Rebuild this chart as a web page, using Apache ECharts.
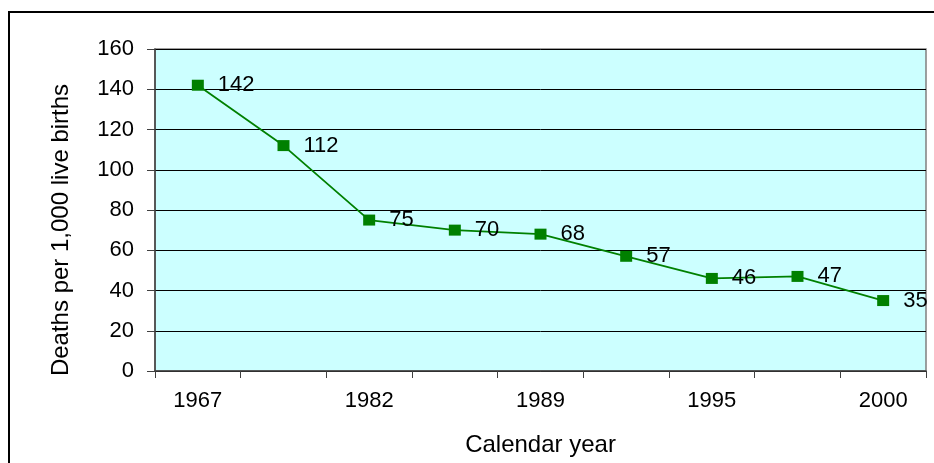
<!DOCTYPE html>
<html>
<head>
<meta charset="utf-8">
<script src="https://cdn.jsdelivr.net/npm/echarts@6/dist/echarts.min.js"></script>
<style>
  html, body { margin: 0; padding: 0; background: #ffffff; }
  #chart { width: 934px; height: 463px; }
</style>
</head>
<body>
<div id="chart"></div>
<script>
// Calendar years on the category axis (every other one is labelled)
const years = ['1967', '1975', '1982', '1986', '1989', '1992', '1995', '1998', '2000'];
// Deaths per 1,000 live births
const deaths = [142, 112, 75, 70, 68, 57, 46, 47, 35];
// Value axis range
const yMin = 0, yMax = 160, yStep = 20;

const FONT = '"Liberation Sans", Arial, sans-serif';
const chart = echarts.init(document.getElementById('chart'), null, { renderer: 'canvas' });

chart.setOption({
  animation: false,
  backgroundColor: '#ffffff',
  graphic: [{
    type: 'rect',
    z: -10,
    silent: true,
    shape: { x: 9, y: 12, width: 960, height: 480 },
    style: { fill: null, stroke: '#000000', lineWidth: 2 }
  }],
  grid: {
    left: 155, right: 8, top: 49, bottom: 92,
    show: true,
    backgroundColor: '#CCFFFF',
    borderColor: '#808080',
    borderWidth: 1.5
  },
  xAxis: {
    type: 'category',
    data: years,
    boundaryGap: true,
    name: 'Calendar year',
    nameLocation: 'middle',
    nameGap: 62,
    nameTextStyle: { fontFamily: FONT, fontSize: 24, color: '#000000' },
    axisLine: { show: true, lineStyle: { color: '#404040', width: 1.5 } },
    axisTick: { show: true, interval: 0, length: 7, lineStyle: { color: '#404040', width: 1 } },
    axisLabel: { interval: 1, margin: 19, fontFamily: FONT, fontSize: 22, color: '#000000' },
    splitLine: { show: false }
  },
  yAxis: {
    type: 'value',
    min: yMin, max: yMax, interval: yStep,
    name: 'Deaths per 1,000 live births',
    nameLocation: 'middle',
    nameGap: 82,
    nameTextStyle: { fontFamily: FONT, fontSize: 24, color: '#000000', padding: [0, 40, 0, 0] },
    axisLine: { show: true, lineStyle: { color: '#404040', width: 1.5 } },
    axisTick: { show: true, length: 8, lineStyle: { color: '#404040', width: 1 } },
    axisLabel: { margin: 21, fontFamily: FONT, fontSize: 22, color: '#000000' },
    splitLine: { show: true, lineStyle: { color: '#000000', width: 1 } }
  },
  series: [{
    type: 'line',
    data: deaths,
    symbol: 'rect',
    symbolSize: [12, 11],
    itemStyle: { color: '#008000' },
    lineStyle: { color: '#008000', width: 1.8 },
    label: {
      show: true,
      position: 'right',
      distance: 14,
      fontFamily: FONT,
      fontSize: 22,
      color: '#000000'
    }
  }]
});
</script>
</body>
</html>
